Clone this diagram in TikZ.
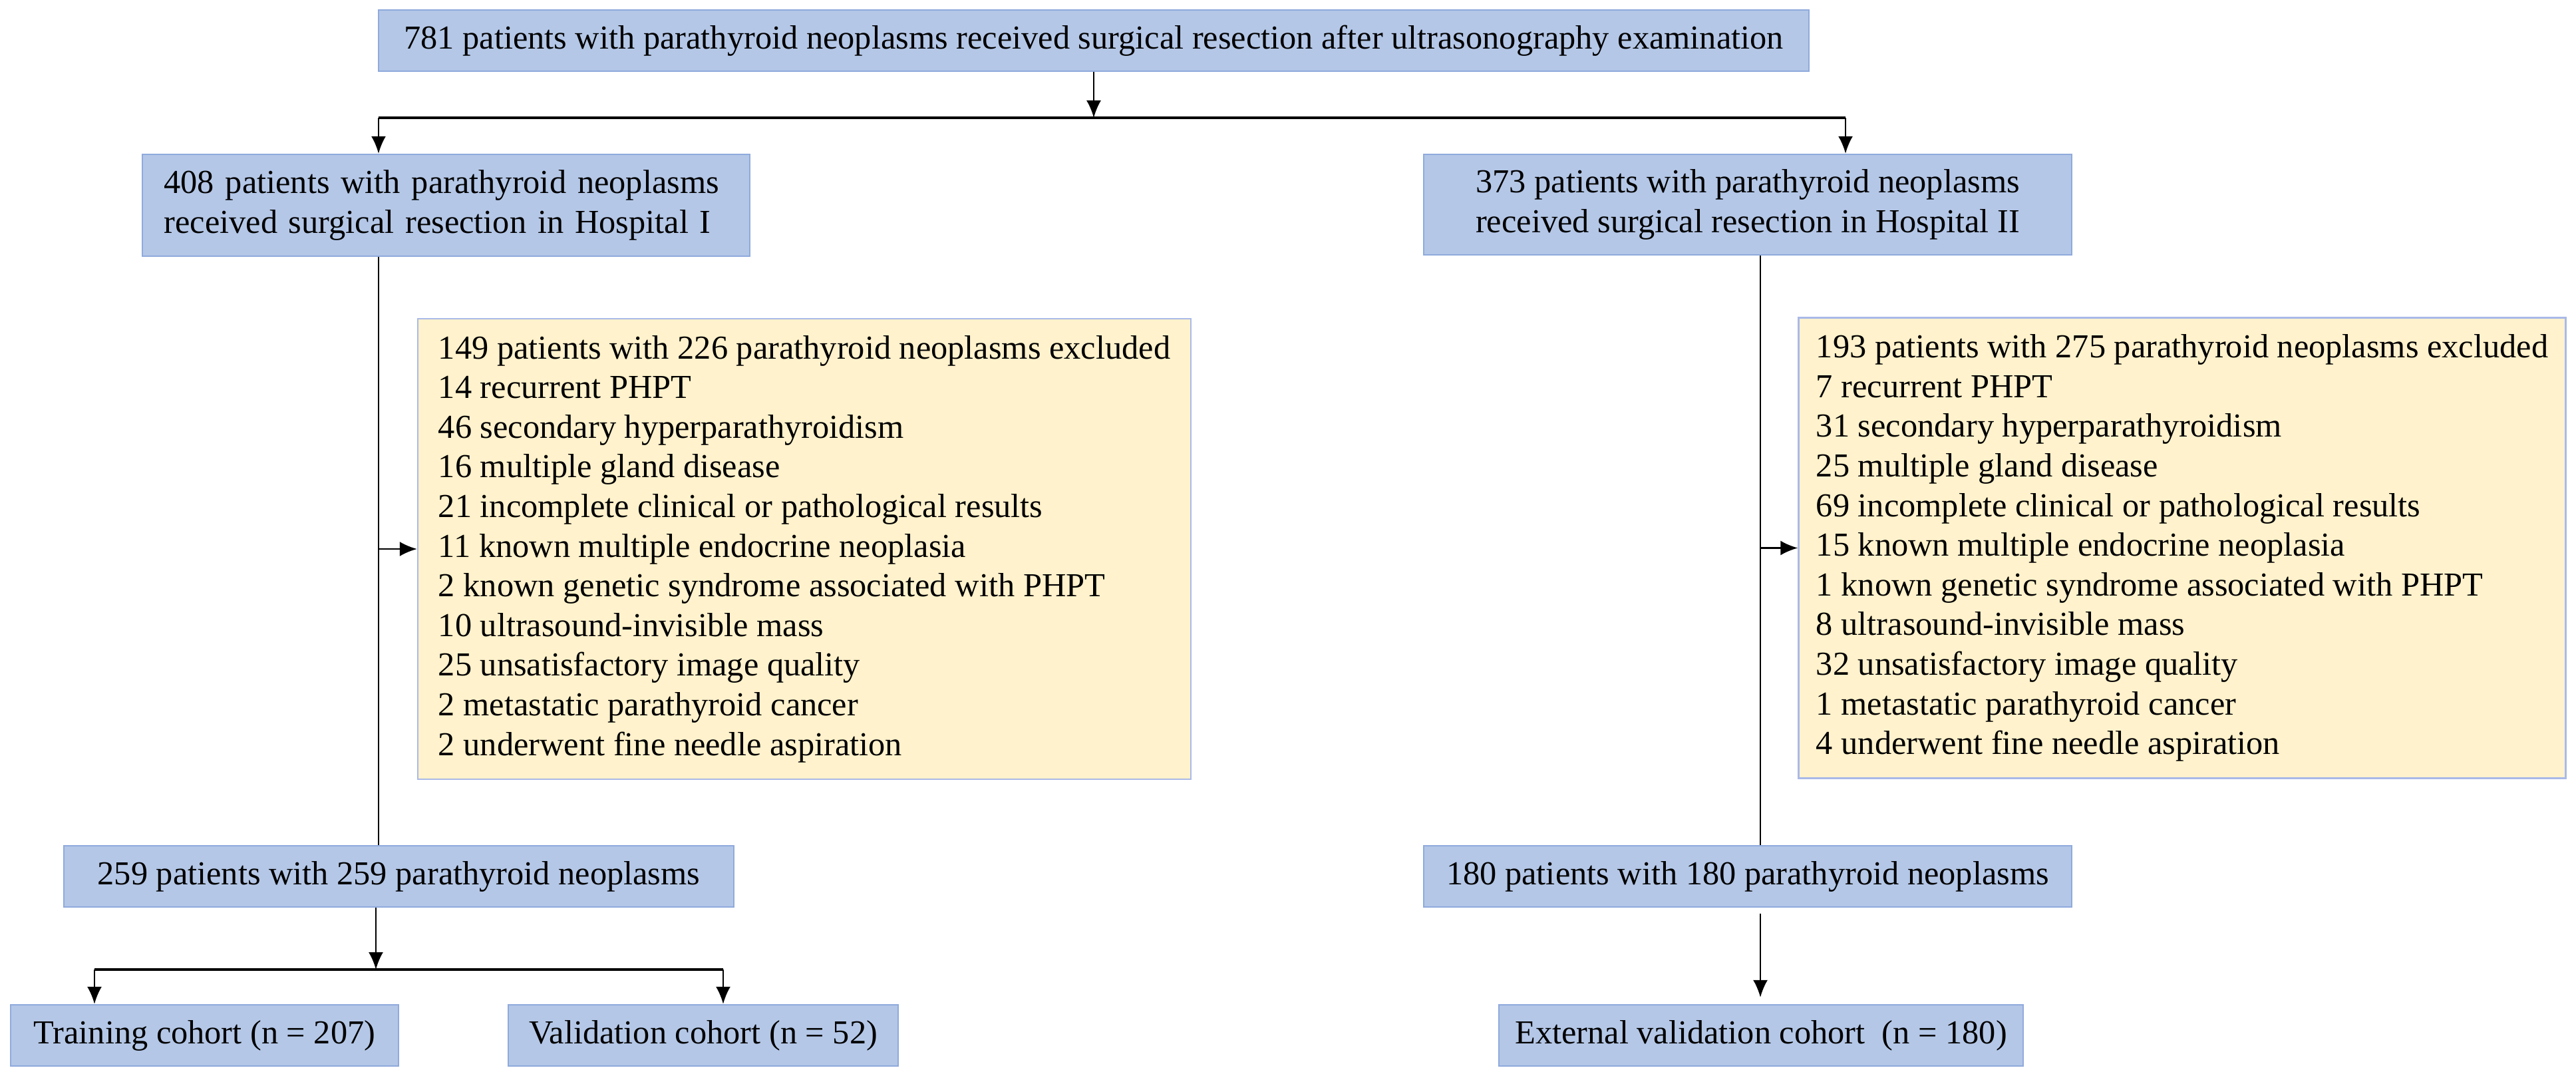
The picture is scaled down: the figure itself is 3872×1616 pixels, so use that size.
\documentclass[tikz,border=0pt]{standalone}
\usepackage{fontspec}
\setmainfont{Liberation Serif}
\usepackage{tikz}
\usetikzlibrary{arrows.meta,positioning}
\definecolor{boxblue}{RGB}{180,199,231}
\definecolor{edgeblue}{RGB}{143,170,220}
\definecolor{boxyellow}{RGB}{255,242,204}
\definecolor{edgelilac}{RGB}{169,185,232}

\begin{document}
\begin{tikzpicture}[
  x=0.25pt, y=-0.25pt,
  font=\fontsize{12.6}{14.9}\selectfont,
  flowbox/.style={draw=edgeblue, line width=0.6pt, fill=boxblue, minimum height=23pt, align=center, inner sep=0pt},
  exclbox/.style={draw=edgelilac, line width=0.6pt, fill=boxyellow, minimum width=290.5pt, minimum height=173pt, align=left, inner sep=0pt},
  arr/.style={-{Latex[length=6.5pt, width=5.5pt]}, line width=0.65pt},
  trunk/.style={line width=0.65pt},
  fork/.style={line width=1pt}
]
\useasboundingbox (0,0) rectangle (3872,1616);

\node[flowbox, minimum width=537.5pt] (all) at (1644,61) {781 patients with parathyroid neoplasms received surgical resection after ultrasonography examination};
\node[flowbox, minimum width=228.25pt, minimum height=38.25pt, text width=212pt, align=left] (hosp1) at (670.5,308.5) {408 patients with parathyroid neoplasms\\received surgical resection in Hospital I};
\node[flowbox, minimum width=243.5pt, minimum height=37.75pt] (hosp2) at (2627,307.5) {373 patients with parathyroid neoplasms\\received surgical resection in Hospital II};

\node[exclbox] (excl1) at (1209,825) {149 patients with 226 parathyroid neoplasms excluded\\14 recurrent PHPT\\46 secondary hyperparathyroidism\\16 multiple gland disease\\21 incomplete clinical or pathological results\\11 known multiple endocrine neoplasia\\2 known genetic syndrome associated with PHPT\\10 ultrasound-invisible mass\\25 unsatisfactory image quality\\2 metastatic parathyroid cancer\\2 underwent fine needle aspiration};
\node[exclbox, minimum width=288.25pt] (excl2) at (3280,823.5) {193 patients with 275 parathyroid neoplasms excluded\\7 recurrent PHPT\\31 secondary hyperparathyroidism\\25 multiple gland disease\\69 incomplete clinical or pathological results\\15 known multiple endocrine neoplasia\\1 known genetic syndrome associated with PHPT\\8 ultrasound-invisible mass\\32 unsatisfactory image quality\\1 metastatic parathyroid cancer\\4 underwent fine needle aspiration};

\node[flowbox, minimum width=251.75pt] (kept1) at (599.5,1317) {259 patients with 259 parathyroid neoplasms};
\node[flowbox, minimum width=243.5pt] (kept2) at (2627,1317) {180 patients with 180 parathyroid neoplasms};

\node[flowbox, minimum width=145.75pt] (train) at (307.5,1556) {Training cohort (n = 207)};
\node[flowbox, minimum width=146.5pt] (valid) at (1057,1556) {Validation cohort (n = 52)};
\node[flowbox, minimum width=197pt] (extval) at (2647,1556) {External validation cohort\ \ (n = 180)};

% junction points
\coordinate (splitL) at (569,177);
\coordinate (splitR) at (2774,177);
\coordinate (trunkR) at (2646,0);
\coordinate (mid1) at (565,1457);
\coordinate (splitT) at (142,1457);
\coordinate (splitV) at (1087,1457);

\draw[arr] (all.south) -- (all.south |- splitL);
\draw[fork] (splitL) -- (splitR);
\draw[arr] (splitL) -- (splitL |- hosp1.north);
\draw[arr] (splitR) -- (splitR |- hosp2.north);

\draw[trunk] (splitL |- hosp1.south) -- (splitL |- kept1.north);
\draw[arr] (splitL |- excl1.west) -- (excl1.west);
\draw[trunk] (trunkR |- hosp2.south) -- (trunkR |- kept2.north);
\draw[arr] (trunkR |- excl2.west) -- (excl2.west);

\draw[arr] (mid1 |- kept1.south) -- (mid1);
\draw[fork] (splitT) -- (splitV);
\draw[arr] (splitT) -- (splitT |- train.north);
\draw[arr] (splitV) -- (splitV |- valid.north);
\draw[arr, shorten <=2.25pt, shorten >=2.5pt] (trunkR |- kept2.south) -- (trunkR |- extval.north);
\end{tikzpicture}
\end{document}
